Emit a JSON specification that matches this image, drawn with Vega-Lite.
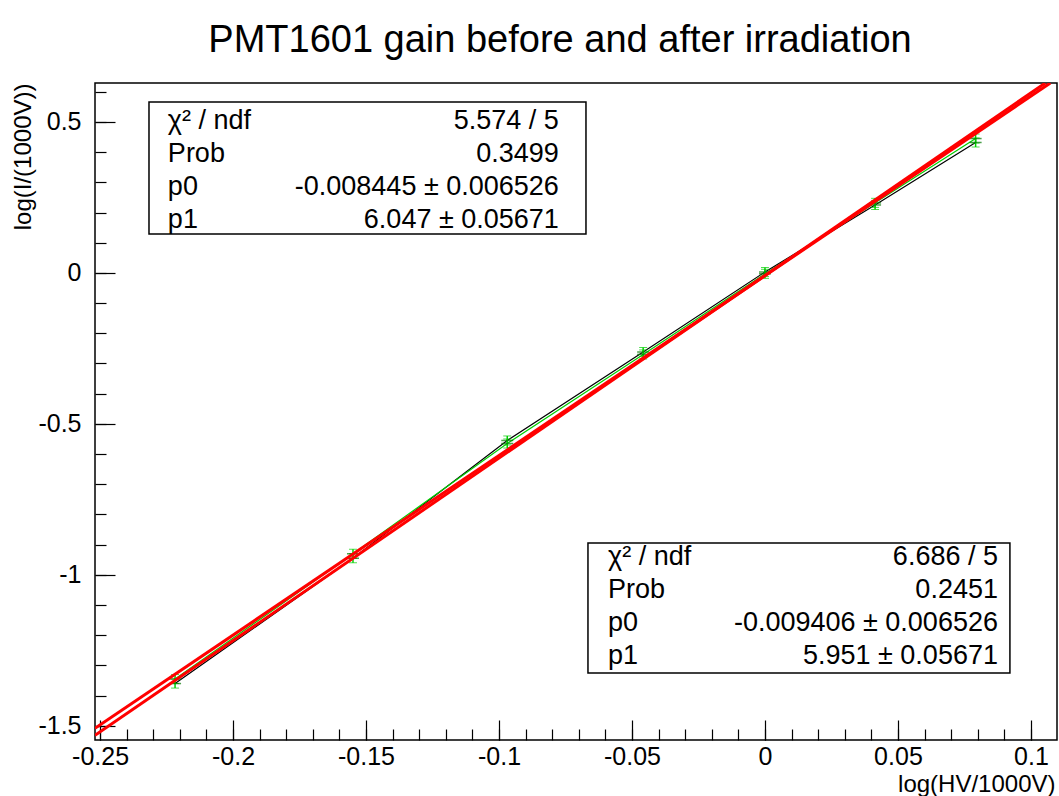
{
  "$schema": "https://vega.github.io/schema/vega-lite/v6.json",
  "width": 962,
  "height": 657,
  "autosize": {"type": "none"},
  "padding": {"left": 95, "top": 83, "right": 2, "bottom": 56},
  "background": "white",
  "config": {
    "font": "Liberation Sans",
    "view": {"stroke": "black", "strokeWidth": 1.5},
    "axis": {"grid": false, "labelFont": "Liberation Sans", "titleFont": "Liberation Sans", "titleFontWeight": "normal", "labelColor": "black", "titleColor": "black", "tickColor": "black", "domain": false}
  },
  "title": {
    "text": "PMT1601 gain before and after irradiation",
    "fontSize": 38,
    "font": "Liberation Sans",
    "fontWeight": "normal",
    "color": "black",
    "anchor": "middle",
    "frame": "group",
    "baseline": "bottom",
    "offset": -15,
    "dx": -16
  },
  "datasets": {
    "points": [
      {"set": "before", "x": -0.2218, "y": -1.360, "err": 0.015},
      {"set": "before", "x": -0.1549, "y": -0.945, "err": 0.015},
      {"set": "before", "x": -0.0969, "y": -0.555, "err": 0.015},
      {"set": "before", "x": -0.0458, "y": -0.262, "err": 0.015},
      {"set": "before", "x": 0.0, "y": 0.003, "err": 0.015},
      {"set": "before", "x": 0.0414, "y": 0.225, "err": 0.015},
      {"set": "before", "x": 0.0792, "y": 0.432, "err": 0.015},
      {"set": "after", "x": -0.2218, "y": -1.345, "err": 0.015},
      {"set": "after", "x": -0.1549, "y": -0.930, "err": 0.015},
      {"set": "after", "x": -0.0969, "y": -0.565, "err": 0.015},
      {"set": "after", "x": -0.0458, "y": -0.270, "err": 0.015},
      {"set": "after", "x": 0.0, "y": -0.003, "err": 0.015},
      {"set": "after", "x": 0.0414, "y": 0.232, "err": 0.015},
      {"set": "after", "x": 0.0792, "y": 0.445, "err": 0.015}
    ],
    "fits": [
      {"fit": "before", "x": -0.2519, "y": -1.5317},
      {"fit": "before", "x": 0.1054, "y": 0.6289},
      {"fit": "after", "x": -0.2519, "y": -1.5084},
      {"fit": "after", "x": 0.1073, "y": 0.6291}
    ],
    "stats": [
      {"box": "before", "labels": "χ² / ndf\nProb\np0\np1", "vals": "5.574 / 5\n0.3499\n-0.008445 ± 0.006526\n6.047 ± 0.05671"},
      {"box": "after", "labels": "χ² / ndf\nProb\np0\np1", "vals": "6.686 / 5\n0.2451\n-0.009406 ± 0.006526\n5.951 ± 0.05671"}
    ]
  },
  "resolve": {"axis": {"x": "independent", "y": "independent"}},
  "layer": [
    {
      "data": {"name": "points"},
      "mark": {"type": "line", "strokeWidth": 1.2, "clip": true},
      "encoding": {
        "x": {"field": "x", "type": "quantitative", "scale": {"domain": [-0.2519, 0.1098], "nice": false, "zero": false},
          "axis": {"orient": "bottom", "title": null, "labels": false, "ticks": true, "tickSize": -11, "tickWidth": 1.2,
            "values": [-0.25,-0.24,-0.23,-0.22,-0.21,-0.2,-0.19,-0.18,-0.17,-0.16,-0.15,-0.14,-0.13,-0.12,-0.11,-0.1,-0.09,-0.08,-0.07,-0.06,-0.05,-0.04,-0.03,-0.02,-0.01,0,0.01,0.02,0.03,0.04,0.05,0.06,0.07,0.08,0.09,0.1]}},
        "y": {"field": "y", "type": "quantitative", "scale": {"domain": [-1.547, 0.629], "nice": false, "zero": false},
          "axis": {"orient": "left", "title": null, "labels": false, "ticks": true, "tickSize": -11, "tickWidth": 1.2,
            "values": [-1.5,-1.4,-1.3,-1.2,-1.1,-1,-0.9,-0.8,-0.7,-0.6,-0.5,-0.4,-0.3,-0.2,-0.1,0,0.1,0.2,0.3,0.4,0.5,0.6]}},
        "color": {"field": "set", "type": "nominal", "scale": {"domain": ["before", "after"], "range": ["#000000", "#00d000"]}, "legend": null}
      }
    },
    {
      "data": {"name": "points"},
      "mark": {"type": "errorbar", "color": "#00d000", "ticks": {"size": 8, "color": "#00d000"}, "rule": {"strokeWidth": 1.5}},
      "encoding": {
        "x": {"field": "x", "type": "quantitative", "axis": null},
        "y": {"field": "y", "type": "quantitative", "axis": null},
        "yError": {"field": "err"}
      }
    },
    {
      "data": {"name": "points"},
      "mark": {"type": "tick", "orient": "horizontal", "color": "#007700", "size": 12, "thickness": 1.5, "clip": true},
      "encoding": {
        "x": {"field": "x", "type": "quantitative", "axis": null},
        "y": {"field": "y", "type": "quantitative", "axis": null}
      }
    },
    {
      "data": {"name": "fits"},
      "mark": {"type": "line", "color": "#ff0000", "strokeWidth": 3, "clip": true},
      "encoding": {
        "x": {"field": "x", "type": "quantitative",
          "axis": {"orient": "bottom", "title": "log(HV/1000V)", "values": [-0.25,-0.2,-0.15,-0.1,-0.05,0,0.05,0.1], "labelExpr": "'' + datum.value",
            "labelFontSize": 25, "labelPadding": 24, "labelBaseline": "top", "tickSize": -20, "tickWidth": 1.2, "labelFlush": false, "labelOverlap": false,
            "titleFontSize": 24, "titleAnchor": "end", "titleAlign": "right", "titleBaseline": "alphabetic", "titleX": 960, "titleY": 51}},
        "y": {"field": "y", "type": "quantitative",
          "axis": {"orient": "left", "title": "log(I/(1000V))", "values": [-1.5,-1,-0.5,0,0.5], "labelExpr": "'' + datum.value",
            "labelFontSize": 25, "labelPadding": 34, "tickSize": -20, "tickWidth": 1.2, "labelFlush": false, "labelOverlap": false,
            "titleFontSize": 24, "titleAngle": -90, "titleAlign": "right", "titleBaseline": "alphabetic", "titleX": -65, "titleY": 0}},
        "detail": {"field": "fit"}
      }
    },
    {
      "data": {"name": "stats"},
      "transform": [{"filter": "datum.box == 'before'"}],
      "mark": {"type": "rect", "fill": "white", "stroke": "black", "strokeWidth": 1.5},
      "encoding": {
        "x": {"datum": -0.2316, "type": "quantitative", "axis": null},
        "x2": {"datum": -0.0673},
        "y": {"datum": 0.5664, "type": "quantitative", "axis": null},
        "y2": {"datum": 0.1292}
      }
    },
    {
      "data": {"name": "stats"},
      "transform": [{"filter": "datum.box == 'before'"}],
      "mark": {"type": "text", "align": "left", "baseline": "alphabetic", "fontSize": 27, "lineHeight": 33, "lineBreak": "\n", "color": "black"},
      "encoding": {
        "x": {"datum": -0.2245, "type": "quantitative", "axis": null},
        "y": {"datum": 0.4770, "type": "quantitative", "axis": null},
        "text": {"field": "labels"}
      }
    },
    {
      "data": {"name": "stats"},
      "transform": [{"filter": "datum.box == 'before'"}],
      "mark": {"type": "text", "align": "right", "baseline": "alphabetic", "fontSize": 27, "lineHeight": 33, "lineBreak": "\n", "color": "black"},
      "encoding": {
        "x": {"datum": -0.0775, "type": "quantitative", "axis": null},
        "y": {"datum": 0.4770, "type": "quantitative", "axis": null},
        "text": {"field": "vals"}
      }
    },
    {
      "data": {"name": "stats"},
      "transform": [{"filter": "datum.box == 'after'"}],
      "mark": {"type": "rect", "fill": "white", "stroke": "black", "strokeWidth": 1.5},
      "encoding": {
        "x": {"datum": -0.06655, "type": "quantitative", "axis": null},
        "x2": {"datum": 0.0921},
        "y": {"datum": -0.8943, "type": "quantitative", "axis": null},
        "y2": {"datum": -1.3250}
      }
    },
    {
      "data": {"name": "stats"},
      "transform": [{"filter": "datum.box == 'after'"}],
      "mark": {"type": "text", "align": "left", "baseline": "alphabetic", "fontSize": 27, "lineHeight": 33, "lineBreak": "\n", "color": "black"},
      "encoding": {
        "x": {"datum": -0.0590, "type": "quantitative", "axis": null},
        "y": {"datum": -0.9672, "type": "quantitative", "axis": null},
        "text": {"field": "labels"}
      }
    },
    {
      "data": {"name": "stats"},
      "transform": [{"filter": "datum.box == 'after'"}],
      "mark": {"type": "text", "align": "right", "baseline": "alphabetic", "fontSize": 27, "lineHeight": 33, "lineBreak": "\n", "color": "black"},
      "encoding": {
        "x": {"datum": 0.0876, "type": "quantitative", "axis": null},
        "y": {"datum": -0.9672, "type": "quantitative", "axis": null},
        "text": {"field": "vals"}
      }
    }
  ]
}
